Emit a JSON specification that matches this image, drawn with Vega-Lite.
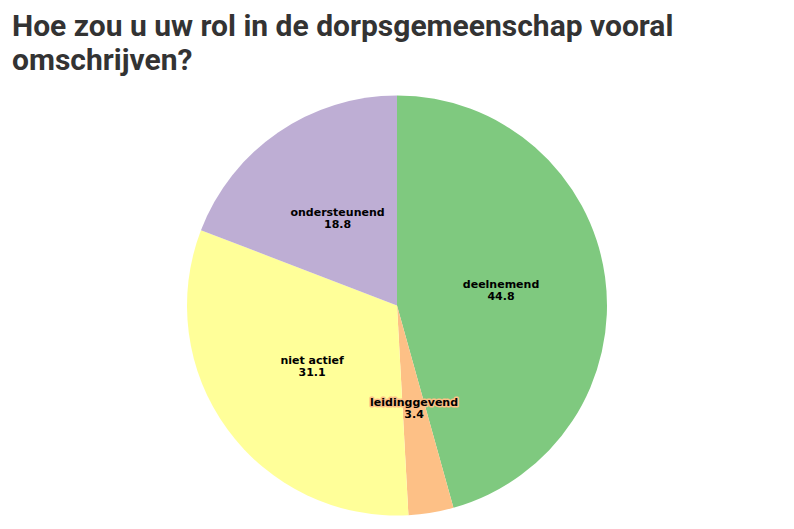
{
  "$schema": "https://vega.github.io/schema/vega-lite/v6.json",
  "width": 794,
  "height": 529,
  "autosize": {"type": "fit", "contains": "padding"},
  "padding": {"left": 12, "top": 12, "right": 12, "bottom": 0},
  "background": "white",
  "title": {
    "text": ["Hoe zou u uw rol in de dorpsgemeenschap vooral", "omschrijven?"],
    "anchor": "start",
    "frame": "group",
    "font": "Roboto",
    "fontSize": 30,
    "fontWeight": "bold",
    "color": "#333333",
    "lineHeight": 34,
    "offset": 6
  },
  "data": {
    "values": [
      {"rol": "deelnemend", "pct": 44.8},
      {"rol": "leidinggevend", "pct": 3.4},
      {"rol": "niet actief", "pct": 31.1},
      {"rol": "ondersteunend", "pct": 18.8}
    ]
  },
  "encoding": {
    "theta": {"field": "pct", "type": "quantitative", "stack": true},
    "order": {"field": "rol", "type": "nominal", "sort": "ascending"},
    "color": {
      "field": "rol",
      "type": "nominal",
      "scale": {
        "domain": ["deelnemend", "leidinggevend", "niet actief", "ondersteunend"],
        "range": ["#7fc97f", "#fdc086", "#ffff99", "#beaed4"]
      },
      "legend": null
    }
  },
  "layer": [
    {"mark": {"type": "arc", "outerRadius": 210}},
    {
      "mark": {"type": "text", "radius": 105, "dy": -6, "font": "DejaVu Sans", "fontSize": 11, "fontWeight": "bold", "strokeWidth": 3, "strokeJoin": "round"},
      "encoding": {"text": {"field": "rol"}, "stroke": {"field": "rol", "type": "nominal", "scale": {"domain": ["deelnemend", "leidinggevend", "niet actief", "ondersteunend"], "range": ["#7fc97f", "#fdc086", "#ffff99", "#beaed4"]}, "legend": null}}
    },
    {
      "mark": {"type": "text", "radius": 105, "dy": 6, "font": "DejaVu Sans", "fontSize": 11, "fontWeight": "bold", "strokeWidth": 3, "strokeJoin": "round"},
      "encoding": {"text": {"field": "pct", "type": "quantitative", "format": ".1f"}, "stroke": {"field": "rol", "type": "nominal", "scale": {"domain": ["deelnemend", "leidinggevend", "niet actief", "ondersteunend"], "range": ["#7fc97f", "#fdc086", "#ffff99", "#beaed4"]}, "legend": null}}
    },
    {
      "mark": {"type": "text", "radius": 105, "dy": -6, "font": "DejaVu Sans", "fontSize": 11, "fontWeight": "bold"},
      "encoding": {"text": {"field": "rol"}, "color": {"value": "#000000"}}
    },
    {
      "mark": {"type": "text", "radius": 105, "dy": 6, "font": "DejaVu Sans", "fontSize": 11, "fontWeight": "bold"},
      "encoding": {"text": {"field": "pct", "type": "quantitative", "format": ".1f"}, "color": {"value": "#000000"}}
    }
  ],
  "view": {"stroke": null}
}
